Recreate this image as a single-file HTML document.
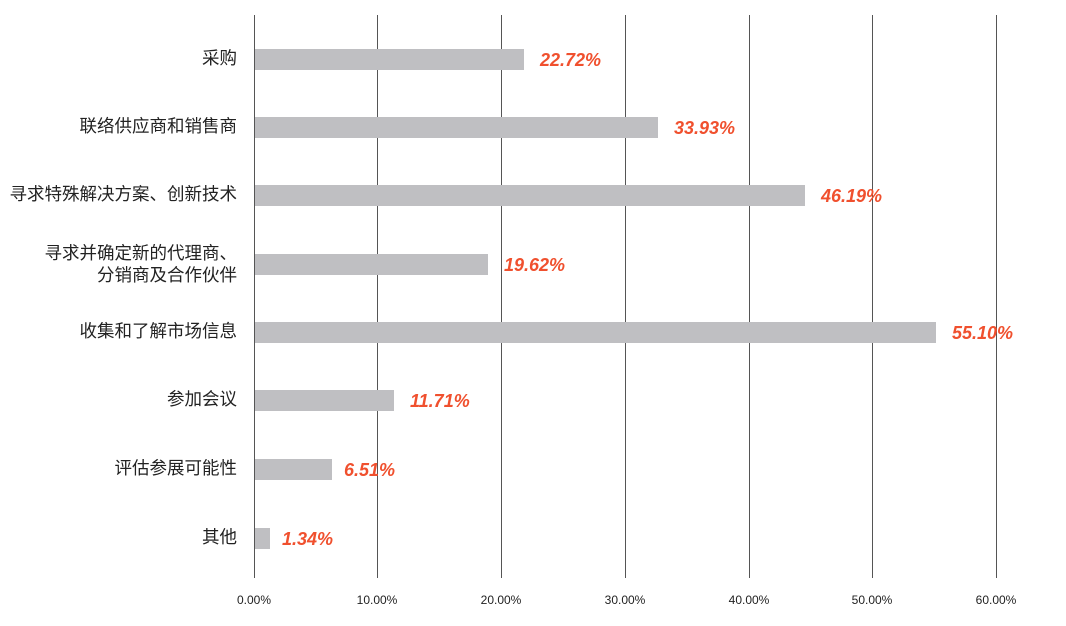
<!DOCTYPE html>
<html><head><meta charset="utf-8"><style>
body{margin:0;background:#fff}
svg{display:block}
.c{font-family:"Liberation Sans","Noto Sans CJK SC",sans-serif;font-size:17.5px;fill:#222}
.v{font-family:"Liberation Sans",sans-serif;font-size:18px;font-weight:bold;font-style:italic;fill:#f0502e}
.t{font-family:"Liberation Sans",sans-serif;font-size:12px;fill:#222}
</style></head><body>
<svg width="1066" height="626" xmlns="http://www.w3.org/2000/svg">
<g stroke="#555" stroke-width="1">
<line x1="254.5" y1="15" x2="254.5" y2="578"/>
<line x1="377.5" y1="15" x2="377.5" y2="578"/>
<line x1="501.5" y1="15" x2="501.5" y2="578"/>
<line x1="625.5" y1="15" x2="625.5" y2="578"/>
<line x1="749.5" y1="15" x2="749.5" y2="578"/>
<line x1="872.5" y1="15" x2="872.5" y2="578"/>
<line x1="996.5" y1="15" x2="996.5" y2="578"/>
</g>
<g fill="#bfbfc2">
<rect x="255" y="49" width="269" height="21"/>
<rect x="255" y="117" width="403" height="21"/>
<rect x="255" y="185" width="550" height="21"/>
<rect x="255" y="254" width="233" height="21"/>
<rect x="255" y="322" width="681" height="21"/>
<rect x="255" y="390" width="139" height="21"/>
<rect x="255" y="459" width="77" height="21"/>
<rect x="255" y="528" width="15" height="21"/>
</g>
<g class="v">
<text x="540" y="66">22.72%</text>
<text x="674" y="134">33.93%</text>
<text x="821" y="202">46.19%</text>
<text x="504" y="271">19.62%</text>
<text x="952" y="339">55.10%</text>
<text x="410" y="407">11.71%</text>
<text x="344" y="476">6.51%</text>
<text x="282" y="545">1.34%</text>
</g>
<g class="c" text-anchor="end">
<text x="237" y="64">采购</text>
<text x="237" y="132">联络供应商和销售商</text>
<text x="237" y="200">寻求特殊解决方案、创新技术</text>
<text x="237" y="259">寻求并确定新的代理商、</text>
<text x="237" y="281">分销商及合作伙伴</text>
<text x="237" y="337">收集和了解市场信息</text>
<text x="237" y="405">参加会议</text>
<text x="237" y="474">评估参展可能性</text>
<text x="237" y="543">其他</text>
</g>
<g class="t" text-anchor="middle">
<text x="254" y="604">0.00%</text>
<text x="377" y="604">10.00%</text>
<text x="501" y="604">20.00%</text>
<text x="625" y="604">30.00%</text>
<text x="749" y="604">40.00%</text>
<text x="872" y="604">50.00%</text>
<text x="996" y="604">60.00%</text>
</g>
</svg>
</body></html>
